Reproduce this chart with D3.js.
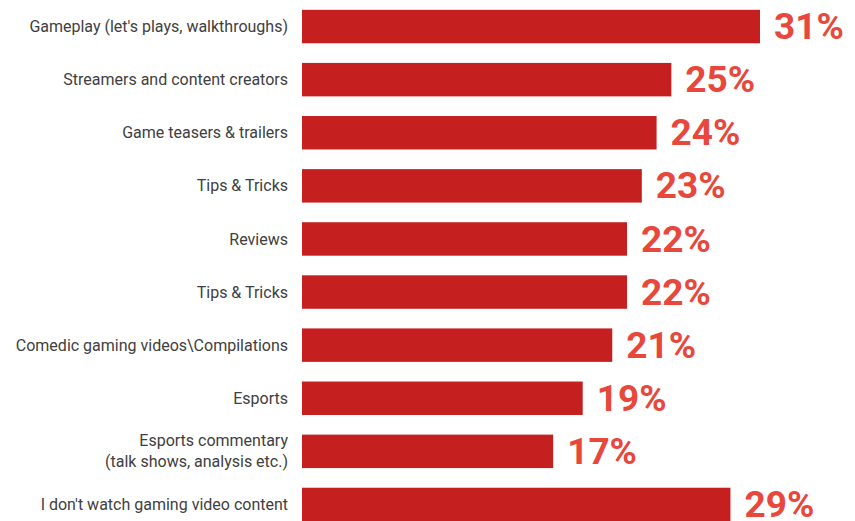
<!DOCTYPE html>
<html>
<head>
<meta charset="utf-8">
<script src="https://cdn.jsdelivr.net/npm/d3@7"></script>
<style>
  html, body { margin: 0; padding: 0; background: #fff; }
  svg { display: block; }
</style>
</head>
<body>
<svg id="chart" width="855" height="521"></svg>
<script>
// Categories (top to bottom) and share of respondents, in percent
const categories = [
  "Gameplay (let's plays, walkthroughs)",
  "Streamers and content creators",
  "Game teasers & trailers",
  "Tips & Tricks",
  "Reviews",
  "Tips & Tricks ",
  "Comedic gaming videos\\Compilations",
  "Esports",
  "Esports commentary\n(talk shows, analysis etc.)",
  "I don't watch gaming video content"
];
const values = [31, 25, 24, 23, 22, 22, 21, 19, 17, 29];

const svg = d3.select("#chart");
const x0 = 302;

const x = d3.scaleLinear().domain([0, 31]).range([x0, 760]);
const y = d3.scaleBand()
  .domain(d3.range(categories.length))
  .range([0, 531])
  .paddingInner(0.37)
  .paddingOuter(0.185);

const rows = svg.selectAll("g.row")
  .data(categories.map((c, i) => ({ c, v: values[i], i })))
  .join("g")
  .attr("class", "row");

rows.append("rect")
  .attr("x", x(0))
  .attr("y", d => y(d.i))
  .attr("width", d => x(d.v) - x(0))
  .attr("height", y.bandwidth())
  .attr("fill", "#c5201f");

// Category labels, right-aligned beside the bars
rows.each(function(d) {
  const lines = d.c.trim().split("\n");
  const cy = y(d.i) + y.bandwidth() / 2;
  const lh = 21;
  const t = d3.select(this).append("text")
    .attr("x", 288)
    .attr("text-anchor", "end")
    .attr("font-family", "Roboto, 'Open Sans', sans-serif")
    .attr("font-size", 16)
    .attr("fill", "#404040");
  lines.forEach((ln, k) => {
    t.append("tspan")
      .attr("x", 288)
      .attr("y", cy + (k - (lines.length - 1) / 2) * lh)
      .attr("dy", "0.35em")
      .text(ln);
  });
});

// Value labels at the end of each bar
rows.append("text")
  .attr("x", d => x(d.v) + 14)
  .attr("y", d => y(d.i) + y.bandwidth() / 2)
  .attr("dy", "0.34em")
  .attr("font-family", "Roboto, 'Open Sans', sans-serif")
  .attr("font-weight", 700)
  .attr("font-size", 37)
  .attr("fill", "#e8473b")
  .text(d => d.v + "%");
</script>
</body>
</html>
